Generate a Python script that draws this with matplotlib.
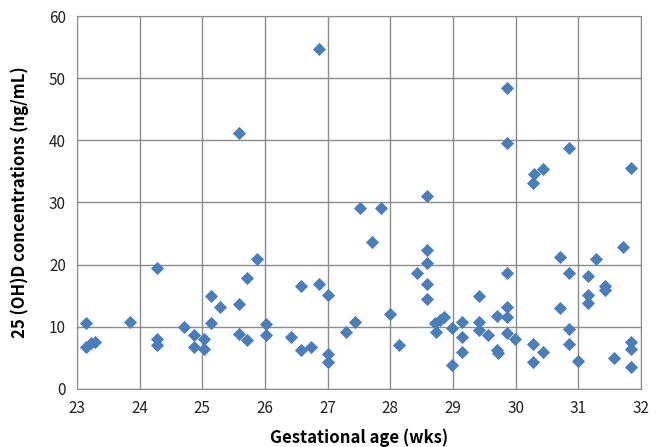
import numpy as np
import matplotlib.pyplot as plt

plt.rcParams['font.family'] = ['Noto Sans CJK KR', 'DejaVu Sans']

# gestational age (wks) and 25(OH)D (ng/mL)
age = [23.15, 23.15, 23.23, 23.29, 23.85, 24.28, 24.28, 24.28, 24.71, 24.86,
       24.86, 25.02, 25.02, 25.14, 25.14, 25.28, 25.58, 25.58, 25.58, 25.72,
       25.72, 25.87, 26.01, 26.01, 26.41, 26.57, 26.57, 26.73, 26.87, 26.87,
       27.0, 27.0, 27.0, 27.29, 27.44, 27.52, 27.71, 27.86, 28.0, 28.14,
       28.43, 28.58, 28.58, 28.58, 28.58, 28.58, 28.71, 28.73, 28.79, 28.86,
       28.99, 28.99, 29.15, 29.15, 29.15, 29.41, 29.41, 29.41, 29.56, 29.71,
       29.71, 29.72, 29.86, 29.86, 29.86, 29.86, 29.87, 29.87, 29.99, 30.28,
       30.28, 30.28, 30.29, 30.43, 30.43, 30.71, 30.71, 30.85, 30.85, 30.85,
       30.86, 31.0, 31.15, 31.15, 31.15, 31.28, 31.43, 31.43, 31.57, 31.72,
       31.85, 31.85, 31.85, 31.85]
vitd = [10.6, 6.8, 7.35, 7.6, 10.8, 19.4, 8.0, 7.1, 10.0, 8.7,
        6.8, 8.0, 6.4, 15.0, 10.6, 13.1, 41.2, 13.6, 8.8, 7.8,
        17.9, 20.9, 10.4, 8.7, 8.4, 16.5, 6.3, 6.7, 54.7, 16.9,
        15.1, 5.6, 4.4, 9.1, 10.8, 29.1, 23.6, 29.1, 12.0, 7.0,
        18.6, 31.1, 22.3, 20.3, 16.9, 14.5, 10.6, 9.2, 11.1, 11.5,
        9.8, 3.9, 10.8, 8.4, 6.0, 15.0, 10.8, 9.5, 8.7, 11.7,
        6.2, 5.8, 18.6, 13.1, 11.6, 9.0, 48.5, 39.5, 8.0, 7.2,
        4.3, 33.1, 34.6, 6.0, 35.4, 21.2, 13.0, 18.6, 9.7, 7.2,
        38.7, 4.5, 18.1, 15.1, 13.9, 20.9, 16.5, 15.9, 4.9, 22.9,
        7.6, 6.4, 3.6, 35.5]

fig = plt.figure(figsize=(6.58, 4.47), dpi=100)
ax = fig.add_axes([0.117, 0.130, 0.857, 0.834])

ax.scatter(age, vitd, marker='D', s=45, color='#4a7ebb', zorder=3, linewidths=0)

ax.set_xlim(23, 32)
ax.set_ylim(0, 60)
ax.set_xticks(np.arange(23, 33, 1))
ax.set_yticks(np.arange(0, 61, 10))
ax.grid(True, color='#8c8c8c', linewidth=1)
ax.set_axisbelow(True)
for s in ax.spines.values():
    s.set_color('#8c8c8c')
ax.tick_params(length=0, labelsize=11, pad=8, colors='#222222')

ax.set_xlabel('Gestational age (wks)', fontsize=12, fontweight='bold', labelpad=8)
ax.set_ylabel('25 (OH)D concentrations (ng/mL)', fontsize=12, fontweight='bold', labelpad=14)

fig.savefig('out.png', dpi=100)
